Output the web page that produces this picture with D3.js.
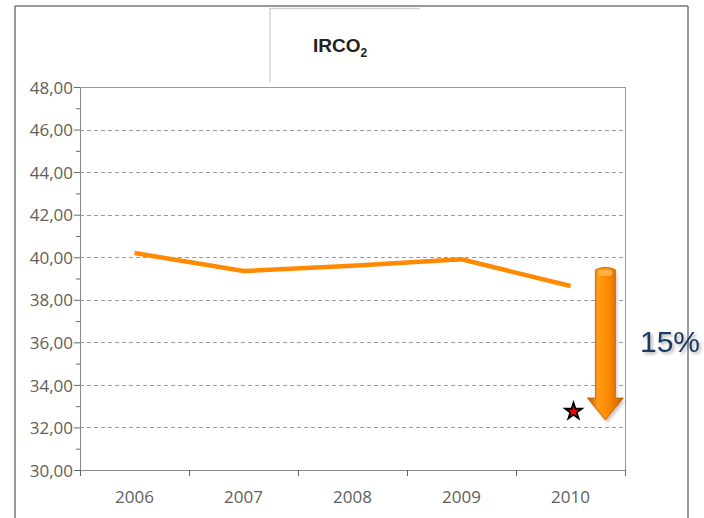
<!DOCTYPE html>
<html>
<head>
<meta charset="utf-8">
<script src="https://cdn.jsdelivr.net/npm/d3@7"></script>
<style>
  body { margin: 0; background: #fff; }
  svg { display: block; }
  .tick text { font-family: "Open Sans", sans-serif; fill: #5f5f57; }
</style>
</head>
<body>
<svg width="704" height="518"></svg>
<script>
var years = ["2006", "2007", "2008", "2009", "2010"];
var values = [40.2, 39.35, 39.6, 39.9, 38.65];
var yTicks = [30, 32, 34, 36, 38, 40, 42, 44, 46, 48];
var target = {year: "2010", value: 32.8};
var arrowRange = [39.55, 32.35];
var reduction = "15%";

var svg = d3.select("svg");
var width = +svg.attr("width");
var height = +svg.attr("height");

var plotLeft = 80, plotRight = 625, plotTop = 87, plotBottom = 470;

var x = d3.scaleBand().domain(years).range([plotLeft, plotRight]).padding(0);
var y = d3.scaleLinear().domain([30, 48]).range([plotBottom, plotTop]);

var defs = svg.append("defs");
var grad = defs.append("linearGradient").attr("id", "arrowGrad")
    .attr("x1", "0%").attr("x2", "100%").attr("y1", "0%").attr("y2", "0%");
grad.append("stop").attr("offset", "0%").attr("stop-color", "#b85a00");
grad.append("stop").attr("offset", "30%").attr("stop-color", "#ff9a1a");
grad.append("stop").attr("offset", "55%").attr("stop-color", "#ff8c00");
grad.append("stop").attr("offset", "100%").attr("stop-color", "#c46400");
var blur = defs.append("filter").attr("id", "shadow").attr("x", "-30%").attr("y", "-30%").attr("width", "160%").attr("height", "160%");
blur.append("feGaussianBlur").attr("stdDeviation", 1.5);
var drop = defs.append("filter").attr("id", "textShadow").attr("x", "-20%").attr("y", "-30%").attr("width", "140%").attr("height", "160%");
drop.append("feDropShadow").attr("dx", 2).attr("dy", 2).attr("stdDeviation", 1.5)
  .attr("flood-color", "#000").attr("flood-opacity", 0.3);

// outer frame
svg.append("line").attr("x1", 15).attr("x2", 15).attr("y1", 6).attr("y2", height).attr("stroke", "#777").attr("stroke-width", 1.5);
svg.append("line").attr("x1", 688).attr("x2", 688).attr("y1", 6).attr("y2", height).attr("stroke", "#777").attr("stroke-width", 1.5);
svg.append("line").attr("x1", 15).attr("x2", 688).attr("y1", 6).attr("y2", 6).attr("stroke", "#777").attr("stroke-width", 1.5);

// title box
svg.append("line").attr("x1", 270).attr("x2", 420).attr("y1", 8.5).attr("y2", 8.5).attr("stroke", "#d4d4d4").attr("stroke-width", 1.5);
svg.append("line").attr("x1", 270).attr("x2", 270).attr("y1", 8).attr("y2", 82).attr("stroke", "#d4d4d4").attr("stroke-width", 1.5);

var title = svg.append("text").attr("x", 313).attr("y", 52)
    .attr("font-family", "Liberation Sans, Arial, sans-serif").attr("font-weight", "bold")
    .attr("font-size", 19).attr("fill", "#222");
title.append("tspan").text("IRCO");
title.append("tspan").attr("dy", 5).attr("font-size", 12).text("2");

// grid
svg.append("g").selectAll("line")
  .data(yTicks.filter(function(d) { return d > 30 && d < 48; }))
  .enter().append("line")
    .attr("x1", plotLeft).attr("x2", plotRight)
    .attr("y1", function(d) { return Math.round(y(d)) + 0.5; })
    .attr("y2", function(d) { return Math.round(y(d)) + 0.5; })
    .attr("stroke", "#9a9a9a").attr("stroke-dasharray", "4,3");

// plot border top / right
svg.append("line").attr("x1", plotLeft).attr("x2", plotRight).attr("y1", plotTop + 0.5).attr("y2", plotTop + 0.5).attr("stroke", "#999");
svg.append("line").attr("x1", plotRight + 0.5).attr("x2", plotRight + 0.5).attr("y1", plotTop).attr("y2", plotBottom + 5).attr("stroke", "#999");

// y axis minor ticks
var minor = d3.range(31, 48, 2);
svg.append("g").attr("transform", "translate(" + plotLeft + ",0)")
  .call(d3.axisLeft(y).tickValues(minor).tickSize(4).tickFormat(""))
  .call(function(g) { g.select(".domain").remove(); })
  .selectAll("line").attr("stroke", "#666");

// y axis
var yAxis = svg.append("g").attr("transform", "translate(" + plotLeft + ",0)")
  .call(d3.axisLeft(y).tickValues(yTicks).tickSize(6).tickPadding(1)
    .tickFormat(function(d) { return d3.format(".2f")(d).replace(".", ","); }));
yAxis.select(".domain").attr("stroke", "#888");
yAxis.selectAll(".tick line").attr("stroke", "#666");
yAxis.selectAll(".tick text").attr("font-size", 17).attr("dy", "0.36em");

// x axis
var xAxis = svg.append("g").attr("transform", "translate(0," + plotBottom + ")")
  .call(d3.axisBottom(x).tickSize(0).tickPadding(21));
xAxis.select(".domain").attr("stroke", "#888").attr("d", "M" + plotLeft + ",0.5H" + plotRight);
xAxis.selectAll(".tick text").attr("font-size", 17);
svg.append("g").selectAll("line")
  .data(years.concat(["end"]))
  .enter().append("line")
    .attr("x1", function(d, i) { return plotLeft + i * x.bandwidth() + 0.5; })
    .attr("x2", function(d, i) { return plotLeft + i * x.bandwidth() + 0.5; })
    .attr("y1", plotBottom).attr("y2", plotBottom + 6)
    .attr("stroke", "#666");

// line
var line = d3.line()
  .x(function(d, i) { return x(years[i]) + x.bandwidth() / 2; })
  .y(function(d) { return y(d); });
svg.append("path").datum(values)
  .attr("d", line).attr("fill", "none")
  .attr("stroke", "#ff8a00").attr("stroke-width", 4.5);

// arrow
var ax = x("2010") + x.bandwidth() * 0.82;
var ay0 = y(arrowRange[0]), ay1 = y(arrowRange[1]);
var shaftW = 10, headW = 18, headH = 22;
var arrowPath = "M" + (ax - shaftW) + "," + (ay0 + 3) +
  "Q" + ax + "," + (ay0 - 2) + " " + (ax + shaftW) + "," + (ay0 + 3) +
  "L" + (ax + shaftW) + "," + (ay1 - headH) +
  "L" + (ax + headW) + "," + (ay1 - headH) +
  "L" + ax + "," + ay1 +
  "L" + (ax - headW) + "," + (ay1 - headH) +
  "L" + (ax - shaftW) + "," + (ay1 - headH) + "Z";
svg.append("path").attr("d", arrowPath).attr("transform", "translate(2,3)")
  .attr("fill", "#999").attr("opacity", 0.5).attr("filter", "url(#shadow)");
svg.append("path").attr("d", arrowPath).attr("fill", "url(#arrowGrad)")
  .attr("stroke", "#c06000").attr("stroke-width", 0.8);
svg.append("rect").attr("x", ax - shaftW + 3).attr("y", ay0 + 3)
  .attr("width", 2 * shaftW - 6).attr("height", 6).attr("rx", 3)
  .attr("fill", "#ffc060").attr("opacity", 0.7);

// target star
var star = d3.symbol().type(d3.symbolStar).size(85);
svg.append("path").attr("d", star)
  .attr("transform", "translate(" + (x(target.year) + x.bandwidth() / 2 + 3) + "," + (y(target.value) + 1) + ")")
  .attr("fill", "#ff0000").attr("stroke", "#000").attr("stroke-width", 1.8);

// reduction label
svg.append("text").attr("x", 640).attr("y", 352)
  .attr("font-family", "Liberation Sans, Arial, sans-serif").attr("font-size", 30)
  .attr("fill", "#1f3a60").attr("filter", "url(#textShadow)").text(reduction);
</script>
</body>
</html>
